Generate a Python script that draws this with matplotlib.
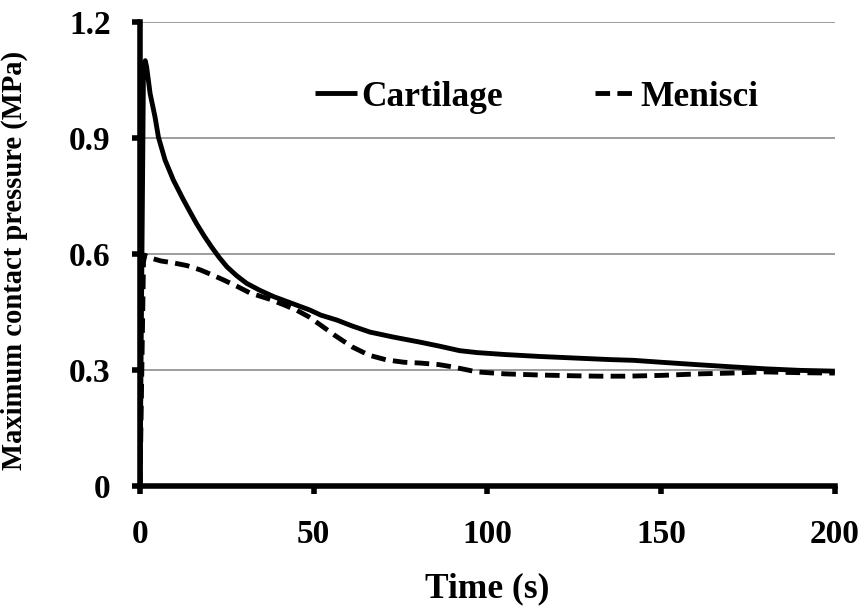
import matplotlib
matplotlib.use("Agg")
import matplotlib.pyplot as plt

plt.rcParams['font.family'] = ['Liberation Serif', 'DejaVu Serif']
plt.rcParams['font.weight'] = 'bold'

cart_t = [0, 1, 1.5, 1.9, 2.9, 4.3, 5.3, 7.2, 9.6, 12.5, 14.5, 16.3, 18.5, 20.6, 22.8, 25,
          27.8, 30.7, 34.5, 38.4, 43.5, 48.9, 52, 56.7, 61, 66.2, 73, 80.6, 86, 92, 97, 105,
          115, 125, 135, 142, 150, 160, 170.6, 180, 190, 200]
cart_v = [0, 1.09, 1.10, 1.084, 1.015, 0.955, 0.902, 0.843, 0.791, 0.74, 0.707, 0.678,
          0.646, 0.618, 0.591, 0.567, 0.544, 0.524, 0.506, 0.49, 0.473, 0.455, 0.442, 0.429,
          0.414, 0.398, 0.385, 0.372, 0.362, 0.35, 0.345, 0.34, 0.335, 0.331, 0.327, 0.325,
          0.32, 0.314, 0.308, 0.303, 0.299, 0.297]

men_t = [0, 1, 1.4, 2.9, 6, 9.6, 13.5, 17.3, 20.5, 24, 28, 31.7, 37, 41, 45, 48.5, 52, 56,
         61, 66, 71, 76, 80.6, 86, 90, 97, 105, 115, 125, 132, 140, 150, 161, 170, 180, 190,
         200]
men_v = [0, 0.58, 0.597, 0.59, 0.582, 0.577, 0.57, 0.559, 0.547, 0.533, 0.516, 0.499, 0.484,
         0.47, 0.455, 0.438, 0.416, 0.39, 0.36, 0.338, 0.326, 0.32, 0.318, 0.314, 0.308,
         0.295, 0.29, 0.287, 0.285, 0.284, 0.284, 0.286, 0.29, 0.292, 0.295, 0.293, 0.292]

xticks = [0, 50, 100, 150, 200]
yticks = [0, 0.3, 0.6, 0.9, 1.2]
ytick_labels = ['0', '0.3', '0.6', '0.9', '1.2']

fig = plt.figure(figsize=(8.66, 6.11), dpi=100)
ax = fig.add_axes([0.1617, 0.2046, 0.964 - 0.1617, 0.964 - 0.2046])

ax.plot(cart_t, cart_v, color='black', lw=3.5, label='Cartilage',
        solid_joinstyle='round', solid_capstyle='butt')
ax.plot(men_t, men_v, color='black', lw=3.5, ls=(0, (3, 1.5)), label='Menisci')

ax.set_xlim(0, 200)
ax.set_ylim(0, 1.2)
ax.set_xticks(xticks)
ax.set_yticks(yticks)
ax.set_yticklabels(ytick_labels)
ax.yaxis.grid(True, color='#8c8c8c', lw=1.2)
ax.set_axisbelow(True)
for s in ['top', 'right']:
    ax.spines[s].set_visible(False)
for s in ['left', 'bottom']:
    ax.spines[s].set_linewidth(4)
ax.tick_params(axis='both', direction='out', width=4, length=6, labelsize=24)
ax.tick_params(axis='x', pad=18)
ax.tick_params(axis='y', pad=15)
for lab in ax.get_xticklabels() + ax.get_yticklabels():
    lab.set_fontweight('bold')

ax.set_xlabel('Time (s)', fontsize=25.5, fontweight='bold')
ax.xaxis.set_label_coords(0.5, -0.185)
ax.set_ylabel('Maximum contact pressure (MPa)', fontsize=20.6, fontweight='bold')
ax.yaxis.set_label_coords(-0.161, 0.487)

leg = ax.legend(ncol=2, frameon=False, loc='center left', bbox_to_anchor=(0.252, 0.838),
                handlelength=1.19, handletextpad=0.1, columnspacing=2.6,
                borderpad=0, borderaxespad=0,
                prop={'weight': 'bold', 'size': 25.5})

fig.savefig('out.png', dpi=100, facecolor='white')
